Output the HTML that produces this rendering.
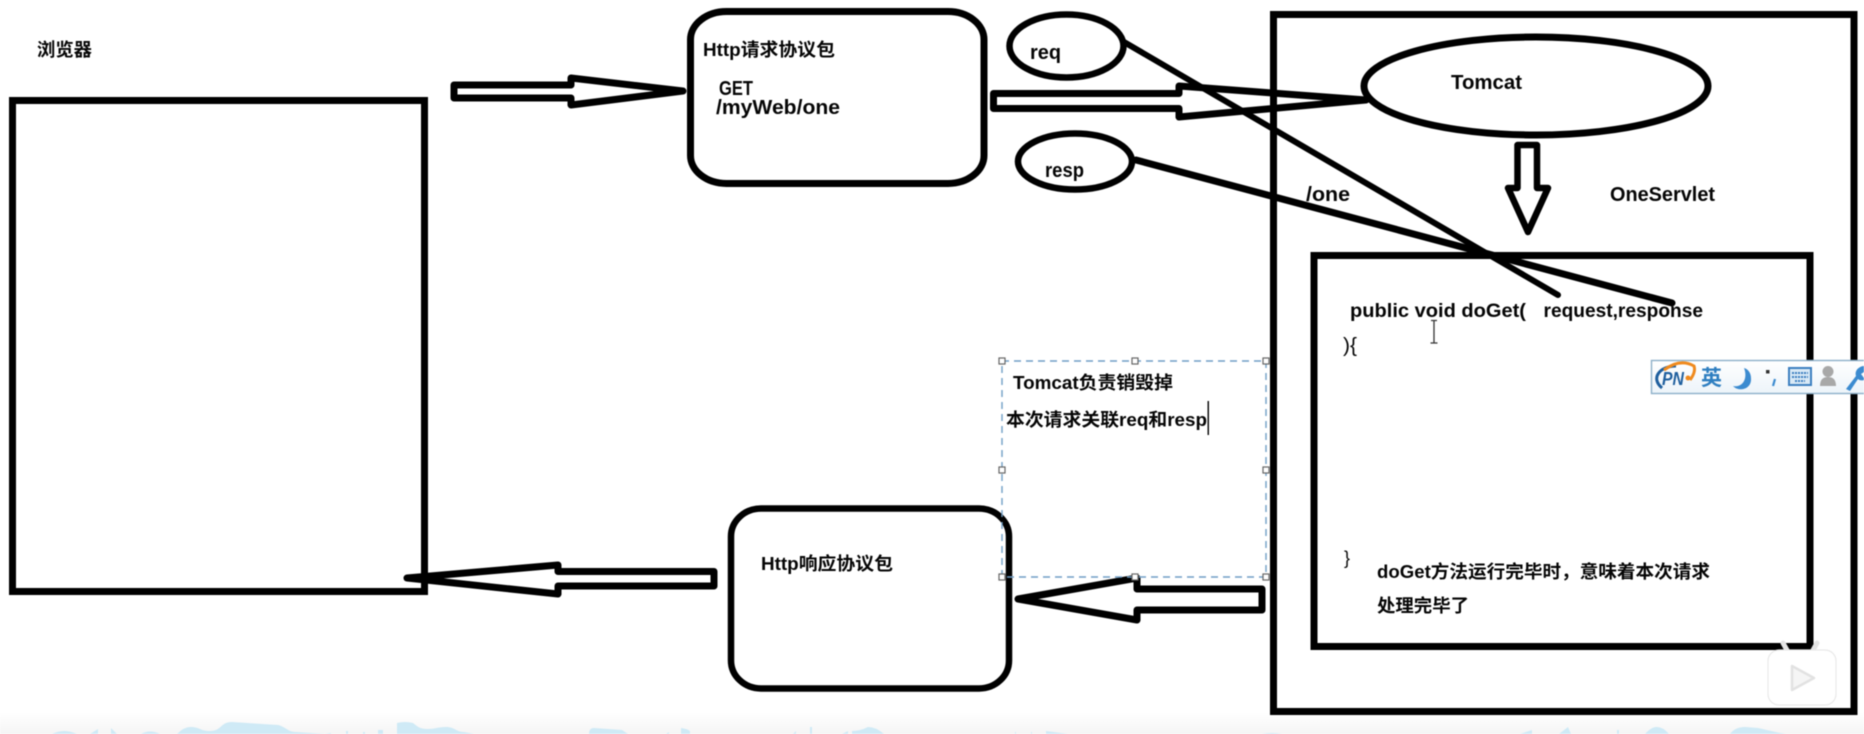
<!DOCTYPE html>
<html lang="zh">
<head>
<meta charset="utf-8">
<title>Diagram</title>
<style>
html,body{margin:0;padding:0;width:1864px;height:734px;overflow:hidden;background:#fff}
svg{display:block;position:absolute;left:0;top:0;filter:blur(.45px)}
text{font-family:"Liberation Sans","Noto Sans CJK SC",sans-serif;font-weight:700;font-size:18px;fill:#050505}
.b{font-size:20px}
.s{fill:none;stroke:#000;stroke-linejoin:round;stroke-linecap:round}
.h{fill:#fff;stroke:#666;stroke-width:1.2}
</style>
</head>
<body>
<svg width="1864" height="734" viewBox="0 0 1864 734" xmlns="http://www.w3.org/2000/svg">
<defs>
<linearGradient id="bg" x1="0" y1="0" x2="0" y2="1"><stop offset="0" stop-color="#fff"/><stop offset="1" stop-color="#f5f5f5"/></linearGradient>
<linearGradient id="ime" x1="0" y1="0" x2="0" y2="1"><stop offset="0" stop-color="#fff"/><stop offset="1" stop-color="#edf4fa"/></linearGradient>
</defs>
<rect width="1864" height="734" fill="#fff"/>
<rect y="712" width="1864" height="22" fill="url(#bg)"/>

<!-- bottom blue wave -->
<g fill="#cfeaf6">
<path d="M52 734Q64 728 77 734ZM90 734L98 729V734ZM111 734V728L117 734ZM141 734Q150 729 160 734Z"/>
<path d="M177 734Q184 727 190 727C200 727 200 731 210 731C222 731 220 722 232 722L278 725C286 727 288 732 296 732L325 734L331 733V734Z"/>
<path d="M346 734V731H348V734ZM363 734V732H365V734ZM378 734V730H383V734Z"/>
<path d="M397 734V723Q405 721 413 723C418 727 420 729 428 729C435 729 438 727 446 727C455 727 456 732 464 732L474 734Z"/>
<path d="M589 734Q589 728 594 728L622 730L628 734Z"/>
<path d="M666 734L669 732V734ZM681 734V728Q688 729 690 731V734ZM793 734L796 731V734ZM810 734V727H812V734ZM842 734L848 731V734ZM852 734V731Q860 731 868 727Q876 727 884 734ZM1015 734V732H1016V734ZM1031 734V732H1032V734ZM1046 734V731L1068 734Z"/>
<path d="M1262 734Q1272 732 1282 734ZM1520 734L1532 730V734ZM1559 734L1568 727L1571 734ZM1617 734V730H1619V734ZM1645 734Q1657 720 1669 734ZM1730 734Q1735 727 1745 727L1758 728L1780 733L1786 734Z"/>
</g>

<!-- shapes -->
<rect class="s" x="12.5" y="100.5" width="412" height="491" stroke-width="7" style="stroke-linejoin:miter"/>
<rect class="s" x="690.5" y="11.5" width="293.5" height="172" rx="36" ry="28" stroke-width="7"/>
<rect class="s" x="731" y="508.5" width="278" height="180" rx="30" ry="28" stroke-width="6.5"/>
<ellipse class="s" cx="1066.5" cy="46" rx="57" ry="31.5" stroke-width="6.5"/>
<ellipse class="s" cx="1075" cy="161.5" rx="57" ry="28" stroke-width="6.5"/>
<rect class="s" x="1273.5" y="14.5" width="580.5" height="697" stroke-width="7" style="stroke-linejoin:miter"/>
<ellipse class="s" cx="1536" cy="86" rx="172" ry="49" stroke-width="7"/>
<rect class="s" x="1314" y="255.5" width="496" height="391" stroke-width="7" style="stroke-linejoin:miter"/>

<!-- block arrows -->
<path class="s" stroke-width="7" d="M454 85H571V78L683 91L571 105V98H454Z"/>
<path class="s" stroke-width="7" d="M993.5 93.5H1179V86L1366 100L1179 117V108.5H993.5Z"/>
<path class="s" stroke-width="6.5" d="M1517.5 145H1537V188H1548L1528 232L1508 188H1517.5Z"/>
<path class="s" stroke-width="7" d="M1262 589H1137V578L1018 599L1137 620V610H1262Z"/>
<path class="s" stroke-width="7" d="M714 571.5H558V565L407 578L558 594V586H714Z"/>

<!-- lines -->
<path class="s" stroke-width="6" d="M1124 42L1558 295"/>
<path class="s" stroke-width="7" d="M1136 160L1672 303"/>

<!-- selection box -->
<rect x="1002" y="361" width="264" height="216" fill="none" stroke="#6f9ec6" stroke-width="1.4" stroke-dasharray="7 5"/>
<g>
<rect class="h" x="999" y="358" width="6" height="6"/><rect class="h" x="1132" y="358" width="6" height="6"/><rect class="h" x="1263" y="358" width="6" height="6"/>
<rect class="h" x="999" y="467" width="6" height="6"/><rect class="h" x="1263" y="467" width="6" height="6"/>
<rect class="h" x="999" y="574" width="6" height="6"/><rect class="h" x="1132" y="574" width="6" height="6"/><rect class="h" x="1263" y="574" width="6" height="6"/>
</g>

<!-- text -->
<text x="37" y="56" textLength="55" lengthAdjust="spacingAndGlyphs">浏览器</text>
<text x="703" y="56" textLength="132" lengthAdjust="spacingAndGlyphs">Http请求协议包</text>
<text class="b" x="719" y="95" textLength="34" lengthAdjust="spacingAndGlyphs">GET</text>
<text class="b" x="716" y="114" textLength="124" lengthAdjust="spacingAndGlyphs">/myWeb/one</text>
<text class="b" x="1030" y="59" textLength="31" lengthAdjust="spacingAndGlyphs">req</text>
<text class="b" x="1045" y="177" textLength="39" lengthAdjust="spacingAndGlyphs">resp</text>
<text class="b" x="1451" y="89" textLength="71" lengthAdjust="spacingAndGlyphs">Tomcat</text>
<text class="b" x="1306" y="201" textLength="44" lengthAdjust="spacingAndGlyphs">/one</text>
<text class="b" x="1610" y="201" textLength="105" lengthAdjust="spacingAndGlyphs">OneServlet</text>
<text x="1350" y="317" textLength="176" lengthAdjust="spacingAndGlyphs" style="font-size:19px">public void doGet(</text>
<text x="1543.5" y="317" textLength="159.5" lengthAdjust="spacingAndGlyphs" style="font-size:19px">request,response</text>
<text x="1343" y="352" textLength="14" lengthAdjust="spacingAndGlyphs" style="font-weight:400;font-size:20px">){</text>
<text x="1344" y="564" style="font-weight:400;font-size:18px">}</text>
<text x="1377" y="578" textLength="333" lengthAdjust="spacingAndGlyphs">doGet方法运行完毕时，意味着本次请求</text>
<text x="1377" y="612" textLength="92" lengthAdjust="spacingAndGlyphs">处理完毕了</text>
<text x="1013" y="389" textLength="160" lengthAdjust="spacingAndGlyphs">Tomcat负责销毁掉</text>
<text x="1006" y="426" textLength="201" lengthAdjust="spacingAndGlyphs">本次请求关联req和resp</text>
<rect x="1207.5" y="401" width="1.5" height="34" fill="#111"/>
<text x="761" y="570" textLength="132" lengthAdjust="spacingAndGlyphs">Http响应协议包</text>

<!-- I-beam cursor -->
<path d="M1431 320.5H1437M1434 320.5V343M1430.5 343H1437.5" fill="none" stroke="#333" stroke-width="1.3"/>

<!-- IME bar -->
<rect x="1651.5" y="360.5" width="214" height="33" fill="url(#ime)" stroke="#8db0c9" stroke-width="1.4"/>
<path d="M1662 388C1650 378 1660 366 1676 366" fill="none" stroke="#1f5f9e" stroke-width="3"/>
<path d="M1664 370Q1680 358 1694 366Q1696 372 1690 380" fill="none" stroke="#ef8a1e" stroke-width="3"/>
<text x="1662" y="385" style="font-size:18px;font-style:italic;fill:#1f5f9e" textLength="22" lengthAdjust="spacingAndGlyphs">PN</text>
<circle cx="1688" cy="378" r="2.5" fill="#ef8a1e"/>
<text x="1701" y="385" style="font-size:21px;fill:#2f7fc1">英</text>
<path d="M1744 368C1748 378 1743 388 1733 386C1738 392 1752 390 1751 378C1751 373 1748 369 1744 368Z" fill="#3c8bd0"/>
<rect x="1766" y="370" width="3.5" height="3.5" fill="#333"/>
<path d="M1775 379L1773 386" stroke="#3c8bd0" stroke-width="2.2" fill="none"/>
<rect x="1789" y="368" width="22" height="17" fill="#d9e9f6" stroke="#3c7fc0" stroke-width="2"/>
<path d="M1792 373H1808M1792 377H1808M1795 381H1805" stroke="#3c7fc0" stroke-width="2" stroke-dasharray="2 1" fill="none"/>
<circle cx="1828" cy="371.5" r="5.5" fill="#a8a8a8"/>
<path d="M1820 386Q1820 377 1828 377Q1836 377 1836 386Z" fill="#a8a8a8"/>
<path d="M1846 389L1856 376C1854 370 1860 366 1864 366V372L1861 374L1864 378V380C1861 381 1859 380 1858 379L1850 391Z" fill="#3c8bd0"/>

<!-- video watermark -->
<path d="M1788 652L1783 643M1812 652L1817 643" stroke="#e4e4e4" stroke-width="5" stroke-linecap="round" fill="none"/>
<rect x="1768" y="650" width="68" height="55" rx="11" fill="#fff" stroke="#e9e9e9" stroke-width="1.2"/>
<path d="M1792 666L1814 678L1792 690Z" fill="#f5f5f5" stroke="#e2e2e2" stroke-width="2.5" stroke-linejoin="round"/>
</svg>
</body>
</html>
